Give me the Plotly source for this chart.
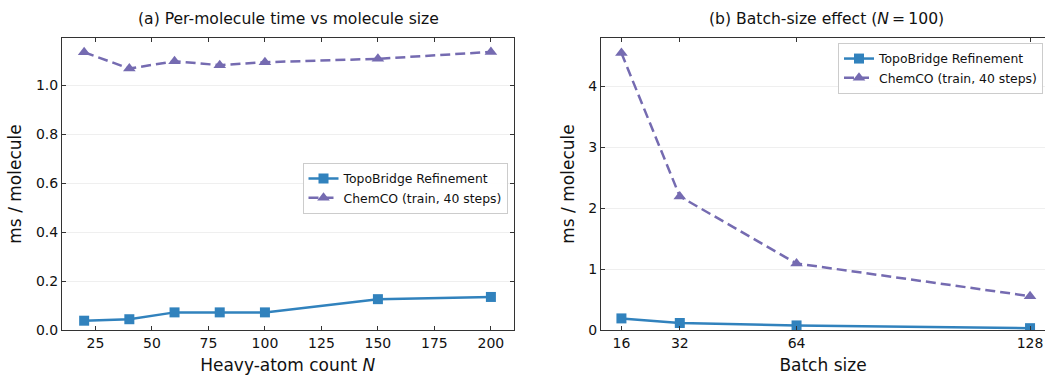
import plotly.graph_objects as go

# Data
heavy_atoms = [20, 40, 60, 80, 100, 150, 200]
topo_size = [0.038, 0.044, 0.072, 0.072, 0.072, 0.126, 0.135]
chemco_size = [1.135, 1.068, 1.098, 1.082, 1.094, 1.108, 1.136]

batch_sizes = [16, 32, 64, 128]
topo_batch = [0.19, 0.115, 0.075, 0.03]
chemco_batch = [4.54, 2.19, 1.09, 0.555]

series_names = ["TopoBridge Refinement", "ChemCO (train, 40 steps)"]
left_yticks = [0.0, 0.2, 0.4, 0.6, 0.8, 1.0]
left_xticks = [25, 50, 75, 100, 125, 150, 175, 200]
right_yticks = [0, 1, 2, 3, 4]

BLUE = "#3182bd"
PURPLE = "#756bb1"
FONT = "DejaVu Sans"
W, H = 1045, 375
TICK_SIZE = 14
LABEL_SIZE = 17
TITLE_SIZE = 15.6
LEGEND_SIZE = 12.4
DASH = "10px,5px"

def px(x):
    return x / W

def py(y):
    return 1 - y / H

fig = go.Figure()

# Left panel
fig.add_trace(go.Scatter(x=heavy_atoms, y=topo_size, name=series_names[0], mode="lines+markers",
                         line=dict(color=BLUE, width=2.5), marker=dict(symbol="square", size=10, color=BLUE),
                         xaxis="x", yaxis="y", legend="legend"))
fig.add_trace(go.Scatter(x=heavy_atoms, y=chemco_size, name=series_names[1], mode="lines+markers",
                         line=dict(color=PURPLE, width=2.5, dash=DASH),
                         marker=dict(symbol="triangle-up", size=11, color=PURPLE),
                         xaxis="x", yaxis="y", legend="legend"))
# Right panel
fig.add_trace(go.Scatter(x=batch_sizes, y=topo_batch, name=series_names[0], mode="lines+markers",
                         line=dict(color=BLUE, width=2.5), marker=dict(symbol="square", size=10, color=BLUE),
                         xaxis="x2", yaxis="y2", legend="legend2"))
fig.add_trace(go.Scatter(x=batch_sizes, y=chemco_batch, name=series_names[1], mode="lines+markers",
                         line=dict(color=PURPLE, width=2.5, dash=DASH),
                         marker=dict(symbol="triangle-up", size=11, color=PURPLE),
                         xaxis="x2", yaxis="y2", legend="legend2"))

axis_common = dict(ticks="inside", ticklen=4, tickwidth=1, tickcolor="#333", showline=True,
                   linecolor="#333", linewidth=1, zeroline=False, automargin=False,
                   tickfont=dict(family=FONT, size=TICK_SIZE, color="#111"))

dom_y = [py(330), py(38)]

fig.update_layout(
    width=W, height=H, margin=dict(l=0, r=0, t=0, b=0),
    paper_bgcolor="white", plot_bgcolor="white",
    font=dict(family=FONT, color="#111"),
    xaxis=dict(domain=[px(62), px(513.5)], range=[10.2, 210], tickvals=left_xticks,
               mirror="ticks", showgrid=False, anchor="y",
               title=dict(text="Heavy-atom count <i>N</i>", font=dict(family=FONT, size=LABEL_SIZE), standoff=9),
               **axis_common),
    yaxis=dict(domain=dom_y, range=[0, 1.193], tickvals=left_yticks, tickformat=".1f",
               mirror="ticks", showgrid=True, gridcolor="#efefef", gridwidth=1, anchor="x",
               title=dict(text="ms / molecule", font=dict(family=FONT, size=LABEL_SIZE), standoff=9),
               **axis_common),
    xaxis2=dict(domain=[px(601), 1.0], range=[10.4, 132.1], tickvals=batch_sizes,
                mirror="ticks", showgrid=False, anchor="y2",
                title=dict(text="Batch size", font=dict(family=FONT, size=LABEL_SIZE), standoff=9),
                **axis_common),
    yaxis2=dict(domain=dom_y, range=[0, 4.787], tickvals=right_yticks,
                mirror=False, showgrid=True, gridcolor="#efefef", gridwidth=1, anchor="x2",
                title=dict(text="ms / molecule", font=dict(family=FONT, size=LABEL_SIZE), standoff=9),
                **axis_common),
    legend=dict(x=px(507.5), y=py(163), xanchor="right", yanchor="top",
                bgcolor="rgba(255,255,255,0.9)", bordercolor="#cccccc", borderwidth=1,
                font=dict(family=FONT, size=LEGEND_SIZE), tracegroupgap=0, itemwidth=30),
    legend2=dict(x=px(1043), y=py(43), xanchor="right", yanchor="top",
                 bgcolor="rgba(255,255,255,0.9)", bordercolor="#cccccc", borderwidth=1,
                 font=dict(family=FONT, size=LEGEND_SIZE), tracegroupgap=0, itemwidth=30),
    annotations=[
        dict(text="(a) Per-molecule time vs molecule size", x=px(288), y=py(19), xref="paper", yref="paper",
             showarrow=False, font=dict(family=FONT, size=TITLE_SIZE), xanchor="center", yanchor="middle"),
        dict(text="(b) Batch-size effect (<i>N</i>\u2009=\u2009100)", x=px(826), y=py(19), xref="paper",
             yref="paper", showarrow=False, font=dict(family=FONT, size=TITLE_SIZE), xanchor="center",
             yanchor="middle"),
    ],
)

fig.write_html("out.html")
